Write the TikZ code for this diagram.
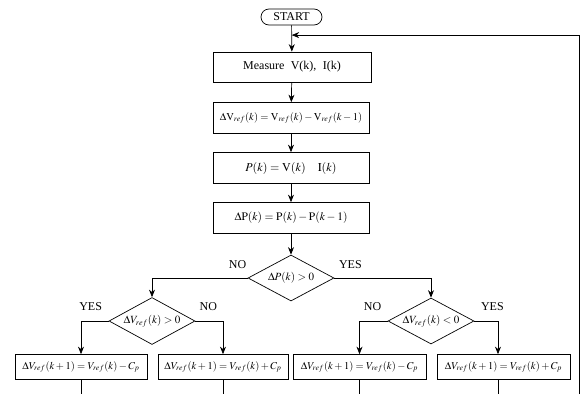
\documentclass[tikz,border=0pt]{standalone}
\usepackage{mathptmx}
\usepackage[no-math]{fontspec}
\setmainfont{Liberation Serif}
\usetikzlibrary{shapes.geometric,shapes.misc,calc,arrows.meta}

\begin{document}
\begin{tikzpicture}[x=1pt, y=-1pt, >={Stealth[length=7.5pt,width=6pt]}, line width=0.7pt,
    box/.style={draw, minimum width=156pt, minimum height=31pt, inner sep=2pt, font=\fontsize{12}{14}\selectfont},
    outbox/.style={draw, minimum height=25pt, inner sep=1pt, font=\fontsize{10.5}{12}\selectfont},
    dec/.style={draw, diamond, aspect=1.85, inner sep=0pt, minimum width=86pt, minimum height=46pt, font=\fontsize{11}{13}\selectfont},
    lbl/.style={font=\fontsize{12}{14}\selectfont}]
    \useasboundingbox (0,0) rectangle (581,394);
    % start and main column
    \node[draw, rounded rectangle, minimum width=63pt, minimum height=16pt, inner sep=1pt, font=\fontsize{12}{14}\selectfont] (start) at (291.5,17) {START};
    \node[box, minimum width=158pt, minimum height=30pt] (meas) at (292,67) {Measure\; V(k),\; I(k)};
    \node[box, font=\fontsize{10.5}{12}\selectfont] (dvref) at (291,118) {$\Delta\mathrm{V}_{ref}(k) = \mathrm{V}_{ref}(k) - \mathrm{V}_{ref}(k-1)$};
    \node[box] (pk) at (291,168) {$P(k) = \mathrm{V}(k)\quad \mathrm{I}(k)$};
    \node[box, font=\fontsize{11.5}{13}\selectfont] (dp) at (291,218) {$\Delta\mathrm{P}(k) = \mathrm{P}(k) - \mathrm{P}(k-1)$};
    % decisions
    \node[dec] (d1) at (291,278) {$\Delta P(k) > 0$};
    \node[dec, minimum height=47pt] (d2) at (152,321) {$\Delta V_{ref}(k) > 0$};
    \node[dec] (d3) at (431,321) {$\Delta V_{ref}(k) < 0$};
    % updates
    \node[outbox, minimum width=132pt] (b1) at (81,367) {$\Delta V_{ref}(k+1) = V_{ref}(k) - C_p$};
    \node[outbox, minimum width=130pt] (b2) at (223,367) {$\Delta V_{ref}(k+1) = V_{ref}(k) + C_p$};
    \node[outbox, minimum width=133pt] (b3) at (359.5,367) {$\Delta V_{ref}(k+1) = V_{ref}(k) - C_p$};
    \node[outbox, minimum width=133pt] (b4) at (503.5,367) {$\Delta V_{ref}(k+1) = V_{ref}(k) + C_p$};
    % labels
    \node[lbl] (no1) at ($(d1.west)+(-10,-13)$) {NO};
    \node[lbl] (yes1) at ($(d1.east)+(16,-13)$) {YES};
    \node[lbl] (yes2) at ($(d2.west)+(-18,-14)$) {YES};
    \node[lbl] (no2) at ($(d2.east)+(13,-14)$) {NO};
    \node[lbl] (no3) at ($(d3.west)+(-15,-14)$) {NO};
    \node[lbl] (yes3) at ($(d3.east)+(18,-14)$) {YES};
    % connectors
    \coordinate (join) at ($(start.south)!0.37!(meas.north)$);
    \coordinate (bot) at (0,394);
    \coordinate (loop) at (579,394);
    \draw[->] (start) -- (meas);
    \draw[->] (meas) -- (dvref);
    \draw[->] (dvref) -- (pk);
    \draw[->] (pk) -- (dp);
    \draw[->] (dp) -- (d1);
    \draw[->] (d1.west) -| (d2.north);
    \draw[->] (d1.east) -| (d3.north);
    \draw[->] (d2.west) -| (b1.north);
    \draw[->] (d2.east) -| (b2.north);
    \draw[->] (d3.west) -| (b3.north);
    \draw[->] (d3.east) -| ([xshift=-5.5pt]b4.north);
    \foreach \b/\s in {b1/0, b2/0, b3/0, b4/-5.5}
        \draw ([xshift=\s pt]\b.south) -- ([xshift=\s pt]\b.south |- bot);
    \draw[->] (loop) |- (join);
\end{tikzpicture}
\end{document}
